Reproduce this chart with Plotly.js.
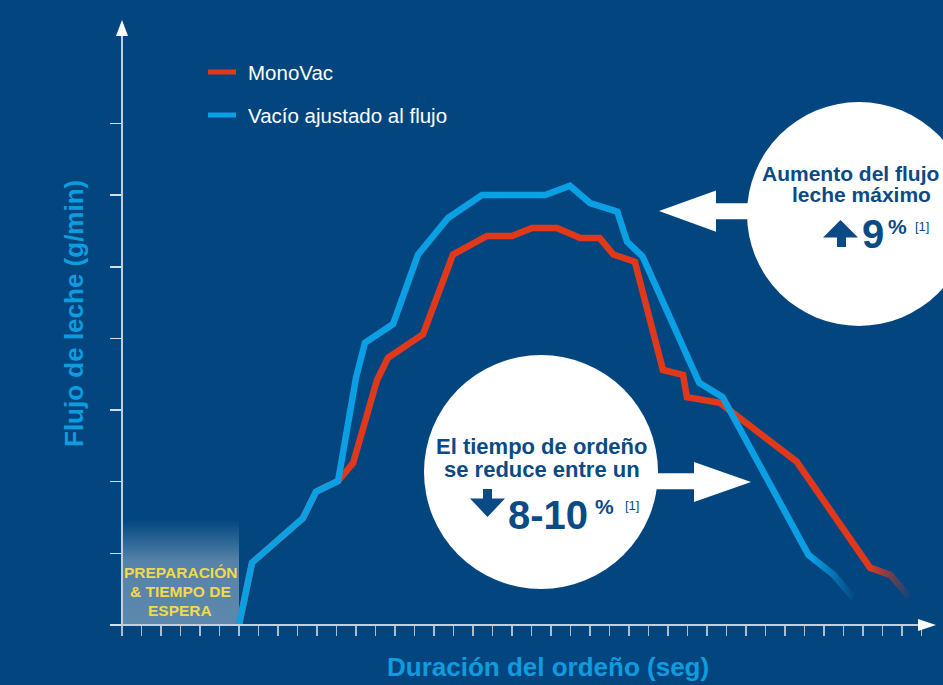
<!DOCTYPE html>
<html>
<head>
<meta charset="utf-8">
<script src="https://cdn.plot.ly/plotly-3.0.1.min.js"></script>
<style>
html,body{margin:0;padding:0;background:#03467f;overflow:hidden;}
#chart{width:943px;height:685px;}
</style>
</head>
<body>
<div id="chart"></div>
<script>
// ---- data (x in tick units, y in tick units) ----
const seriesNames = ["MonoVac", "Vacío ajustado al flujo"];
const xMonoVac = [6.0, 6.67, 9.28, 9.95, 11.08, 11.85, 13.08, 13.64, 15.44, 16.97, 18.72, 20.0, 21.03, 22.3, 23.5, 24.5, 25.2, 26.3, 27.74, 28.77, 28.97, 30.67, 34.6, 38.36, 39.4, 40.4];
const yMonoVac = [0, 0.87, 1.49, 1.86, 2.01, 2.26, 3.42, 3.73, 4.06, 5.17, 5.43, 5.43, 5.54, 5.54, 5.4, 5.4, 5.17, 5.07, 3.56, 3.49, 3.18, 3.1, 2.28, 0.80, 0.70, 0.39];
const xAjustado = [6.0, 6.67, 9.28, 9.95, 11.08, 12.0, 12.46, 13.9, 15.18, 16.72, 18.46, 21.7, 22.97, 24.0, 25.4, 25.9, 26.7, 29.6, 30.8, 35.2, 36.5, 37.5];
const yAjustado = [0, 0.87, 1.49, 1.86, 2.01, 3.45, 3.94, 4.2, 5.17, 5.68, 6.0, 6.0, 6.13, 5.89, 5.77, 5.35, 5.14, 3.38, 3.18, 0.98, 0.70, 0.38];
const xTicks = Array.from({length: 42}, (_, i) => i);
const yTicks = [0, 1, 2, 3, 4, 5, 6, 7];
const prepStart = 0, prepEnd = 6;
const xTitle = "Duración del ordeño (seg)";
const yTitle = "Flujo de leche (g/min)";
const prepLines = ["PREPARACIÓN", "& TIEMPO DE", "ESPERA"];
const peakLines = ["Aumento del flujo", "leche máximo"];
const peakValue = "9", peakUnit = "%", peakRef = "[1]";
const timeLines = ["El tiempo de ordeño", "se reduce entre un"];
const timeValue = "8-10", timeUnit = "%", timeRef = "[1]";

// ---- styles ----
const BG = "#03467f";
const RED = "#e2381a";
const BLUE = "#0b9fe3";
const DARK = "#0c4a85";
const TITLE = "#0f9cdf";
const YEL = "#f4d84b";
const AXIS = "#c3cfdc";
const FONT = '"Liberation Sans", Arial, Helvetica, sans-serif';

const W = 943, H = 685;
const M = {l: 122, r: 0, t: 16, b: 60};
const plotW = W - M.l - M.r, plotH = H - M.t - M.b;
const XMAX = plotW / 19.5, YMAX = 8.5;
// pixel -> paper helpers (for decorations only)
const PX = px => (px - M.l) / plotW;
const PY = py => (H - M.b - py) / plotH;

function ann(text, x, y, size, color, opts) {
  return Object.assign({
    xref: 'paper', yref: 'paper', x: PX(x), y: PY(y), text: text, showarrow: false,
    xanchor: 'left', yanchor: 'middle', font: {family: FONT, size: size, color: color}
  }, opts || {});
}
function pathP(pts) {
  return 'M' + pts.map(p => PX(p[0]) + ',' + PY(p[1])).join('L') + 'Z';
}

const traces = [
  {x: [prepStart, prepStart, prepEnd, prepEnd], y: [0, 1.47, 1.47, 0], mode: 'lines', fill: 'toself',
   line: {width: 0}, hoverinfo: 'skip', showlegend: false,
   fillgradient: {type: 'vertical', start: 0, stop: 1.47,
     colorscale: [[0, 'rgba(255,255,255,0.36)'], [0.6, 'rgba(255,255,255,0.33)'], [1, 'rgba(255,255,255,0)']]}},
  {x: xMonoVac, y: yMonoVac, name: seriesNames[0], mode: 'lines', line: {color: RED, width: 6.5}, showlegend: false},
  {x: xAjustado, y: yAjustado, name: seriesNames[1], mode: 'lines', line: {color: BLUE, width: 6.5}, showlegend: false}
];

const shapes = [
  // axes
  {type: 'line', xref: 'paper', yref: 'paper', x0: PX(122), x1: PX(122), y0: PY(625), y1: PY(35), line: {color: AXIS, width: 2}},
  {type: 'path', xref: 'paper', yref: 'paper', path: pathP([[116, 36], [122, 20], [128, 36]]), fillcolor: '#ffffff', line: {width: 0}},
  {type: 'line', xref: 'paper', yref: 'paper', x0: PX(121), x1: PX(920), y0: PY(625), y1: PY(625), line: {color: AXIS, width: 2}},
  {type: 'path', xref: 'paper', yref: 'paper', path: pathP([[918, 619], [936, 625], [918, 631]]), fillcolor: '#ffffff', line: {width: 0}},
  // legend keys
  {type: 'line', xref: 'paper', yref: 'paper', x0: PX(208), x1: PX(236), y0: PY(72), y1: PY(72), line: {color: RED, width: 5}},
  {type: 'line', xref: 'paper', yref: 'paper', x0: PX(208), x1: PX(236), y0: PY(115), y1: PY(115), line: {color: BLUE, width: 5}},
  // right circle and arrow
  {type: 'circle', xref: 'paper', yref: 'paper', x0: PX(747), x1: PX(971), y0: PY(102), y1: PY(326), fillcolor: '#ffffff', line: {width: 0}, layer: 'above'},
  {type: 'path', xref: 'paper', yref: 'paper', layer: 'above', line: {width: 0}, fillcolor: '#ffffff',
   path: pathP([[659, 211], [716, 190.5], [716, 203.3], [760, 203.3], [760, 219.3], [716, 219.3], [716, 231.7]])},
  // up arrow icon
  {type: 'path', xref: 'paper', yref: 'paper', layer: 'above', line: {width: 0}, fillcolor: DARK,
   path: pathP([[840.5, 220], [858, 237.5], [846, 237.5], [846, 247], [837, 247], [837, 237.5], [823, 237.5]])},
  // lower circle and arrow
  {type: 'circle', xref: 'paper', yref: 'paper', x0: PX(424), x1: PX(658), y0: PY(355), y1: PY(589), fillcolor: '#ffffff', line: {width: 0}, layer: 'above'},
  {type: 'path', xref: 'paper', yref: 'paper', layer: 'above', line: {width: 0}, fillcolor: '#ffffff',
   path: pathP([[645, 473.3], [694, 473.3], [694, 462], [751, 482], [694, 502], [694, 489.3], [645, 489.3]])},
  // down arrow icon
  {type: 'path', xref: 'paper', yref: 'paper', layer: 'above', line: {width: 0}, fillcolor: DARK,
   path: pathP([[483, 489], [492, 489], [492, 498.5], [505, 498.5], [487.5, 517], [470, 498.5], [483, 498.5]])}
];

const annotations = [
  ann(seriesNames[0], 246, 72, 20.5, '#ffffff'),
  ann(seriesNames[1], 246, 115, 20.5, '#ffffff'),
  ann('<b>' + xTitle + '</b>', 548, 667, 26, TITLE, {xanchor: 'center'}),
  ann('<b>' + yTitle + '</b>', 74, 314, 26, TITLE, {xanchor: 'center', textangle: -90}),
  ann('<b>' + prepLines[0] + '</b>', 180, 572, 15.5, YEL, {xanchor: 'center'}),
  ann('<b>' + prepLines[1] + '</b>', 180, 591, 15.5, YEL, {xanchor: 'center'}),
  ann('<b>' + prepLines[2] + '</b>', 180, 610, 15.5, YEL, {xanchor: 'center'}),
  ann('<b>' + peakLines[0] + '</b>', 941, 173, 21, DARK, {xanchor: 'right'}),
  ann('<b>' + peakLines[1] + '</b>', 933, 195, 21, DARK, {xanchor: 'right'}),
  ann('<b>' + peakValue + '</b>', 860, 234, 40, DARK),
  ann('<b>' + peakUnit + '</b>', 886, 226.5, 21, DARK),
  ann(peakRef, 913, 226, 13, DARK),
  ann('<b>' + timeLines[0] + '</b>', 541, 446, 22, DARK, {xanchor: 'center'}),
  ann('<b>' + timeLines[1] + '</b>', 542, 469, 22, DARK, {xanchor: 'center'}),
  ann('<b>' + timeValue + '</b>', 506, 515, 40, DARK),
  ann('<b>' + timeUnit + '</b>', 593, 506.5, 21, DARK),
  ann(timeRef, 623, 505, 13, DARK)
];

const layout = {
  width: W, height: H, margin: M,
  paper_bgcolor: BG, plot_bgcolor: BG,
  showlegend: false,
  xaxis: {range: [0, XMAX], tickvals: xTicks, ticks: 'outside', ticklen: 10, tickwidth: 1.5, tickcolor: 'rgba(225,232,240,0.75)',
          showticklabels: false, showgrid: false, zeroline: false, showline: false, fixedrange: true},
  yaxis: {range: [0, YMAX], tickvals: yTicks, ticks: 'outside', ticklen: 11, tickwidth: 1.5, tickcolor: 'rgba(235,240,246,0.9)',
          showticklabels: false, showgrid: false, zeroline: false, showline: false, fixedrange: true},
  shapes: shapes,
  annotations: annotations,
  hovermode: false
};

const gd = document.getElementById('chart');
Plotly.newPlot(gd, traces, layout, {staticPlot: true, displayModeBar: false}).then(() => {
  // fade the ends of both curves into the background
  const fades = [{idx: 1, color: RED, from: 38.3, to: 40.5}, {idx: 2, color: BLUE, from: 35.4, to: 37.6}];
  const svg = gd.querySelector('svg.main-svg');
  let defs = svg.querySelector('defs');
  const NS = 'http://www.w3.org/2000/svg';
  const xa = gd._fullLayout.xaxis;
  const traceGroups = gd.querySelectorAll('.scatterlayer .trace');
  fades.forEach((f, k) => {
    const g = traceGroups[f.idx];
    if (!g) return;
    const path = g.querySelector('path.js-line');
    if (!path) return;
    const lg = document.createElementNS(NS, 'linearGradient');
    lg.setAttribute('id', 'fade' + k);
    lg.setAttribute('gradientUnits', 'userSpaceOnUse');
    lg.setAttribute('x1', xa.d2p(f.from)); lg.setAttribute('x2', xa.d2p(f.to));
    lg.setAttribute('y1', 0); lg.setAttribute('y2', 0);
    [[0, 1], [1, 0]].forEach(s => {
      const st = document.createElementNS(NS, 'stop');
      st.setAttribute('offset', s[0]);
      st.setAttribute('stop-color', f.color);
      st.setAttribute('stop-opacity', s[1]);
      lg.appendChild(st);
    });
    defs.appendChild(lg);
    path.style.stroke = 'url(#fade' + k + ')';
  });
});
</script>
</body>
</html>
